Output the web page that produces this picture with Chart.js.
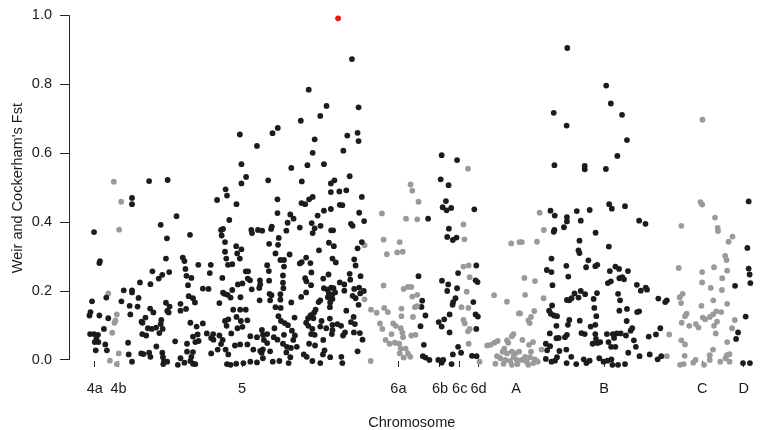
<!DOCTYPE html>
<html>
<head>
<meta charset="utf-8">
<script src="https://cdn.jsdelivr.net/npm/chart.js@4.4.1/dist/chart.umd.min.js"></script>
<style>
  html, body { margin: 0; padding: 0; background: #fff; }
  #wrap { width: 762px; height: 430px; }
</style>
</head>
<body>
<div id="wrap"><canvas id="fst" width="762" height="430"></canvas></div>
<script>
// chromosome labels and their centre on the cumulative position axis
const chromNames = ['4a', '4b', '5', '6a', '6b', '6c', '6d', 'A', 'B', 'C', 'D'];
const chromCentres = [26, 50, 175, 333, 375, 395, 414, 452, 541, 640, 682];
const yTicks = [0, 0.2, 0.4, 0.6, 0.8, 1.0];

// SNPs per chromosome: [cumulative position, Weir & Cockerham Fst]
const chr4a = [[25.3,0.371],[31.3,0.287],[30.7,0.281],[23.3,0.170],[21.7,0.139],[20.7,0.129],[30.7,0.129],[37.7,0.181],[39.7,0.121],[35.3,0.090],[21.3,0.075],[25.3,0.075],[29.3,0.073],[27.7,0.061],[26,0.052],[29.7,0.052],[36.7,0.045],[27,0.028],[38.3,0.028]];

const chr4b = [[45.3,0.517],[52.7,0.459],[50.7,0.378],[39.7,0.193],[48.3,0.132],[47,0.115],[46,0.108],[43.7,0.079],[50.3,0.019],[41.3,-0.002],[48.3,-0.012]];

const chr5 = [[81,0.519],[99.7,0.522],[63.7,0.470],[63.7,0.452],[108.7,0.417],[92.7,0.392],[99,0.353],[122.3,0.363],[98,0.294],[115,0.297],[116.7,0.287],[130.7,0.276],[143.3,0.276],[142.3,0.252],[84.3,0.257],[101.3,0.255],[94.3,0.247],[90.7,0.236],[117.7,0.264],[118.7,0.244],[123.7,0.238],[71.7,0.225],[82.3,0.220],[120.3,0.217],[55.3,0.202],[63.7,0.202],[63.7,0.196],[135.3,0.207],[141,0.206],[121,0.185],[125.3,0.179],[127.3,0.167],[53,0.170],[70.3,0.180],[61.3,0.157],[69.3,0.155],[62,0.132],[82,0.149],[85.3,0.138],[98,0.166],[101.7,0.155],[99.3,0.142],[100.7,0.138],[112.7,0.163],[112.7,0.143],[118.3,0.148],[122.7,0.108],[129,0.097],[135.3,0.106],[73.3,0.111],[77.3,0.123],[74.3,0.108],[93.3,0.116],[92.7,0.104],[94.7,0.090],[88,0.094],[91.3,0.078],[83.7,0.090],[79.7,0.092],[74,0.075],[78,0.071],[59.7,0.050],[88.3,0.039],[107.3,0.054],[119.3,0.047],[125.3,0.068],[130,0.074],[131,0.055],[127.7,0.052],[139.3,0.077],[145.7,0.075],[143.7,0.064],[73,0.019],[75.3,0.017],[81,0.021],[82.3,0.009],[60.3,0.016],[63.7,-0.005],[55.3,-0.017],[83.7,-0.019],[86,-0.017],[94.3,0.021],[95,0.008],[96,-0.005],[99.3,-0.005],[95.3,-0.012],[112.7,0.005],[108,-0.022],[110,-0.014],[119.3,0.024],[125.3,0.023],[123.7,0.009],[116.7,-0.008],[118.7,-0.017],[121,-0.025],[125.3,-0.011],[127.7,-0.012],[122.7,-0.003],[141,-0.025],[143.7,0.019],
  [286,0.873],[242.3,0.784],[260.3,0.737],[292.7,0.733],[254,0.708],[234.3,0.694],[172.7,0.654],[205.7,0.658],[211,0.673],[248.3,0.640],[281.3,0.651],[291.7,0.659],[292.7,0.635],[190,0.621],[246.3,0.601],[277.3,0.607],[174.3,0.568],[224.7,0.557],[241,0.565],[257.7,0.568],[283.7,0.533],[179,0.531],[174.3,0.512],[201.3,0.521],[235.3,0.518],[264.7,0.512],[268.3,0.521],[158.3,0.495],[159.7,0.477],[149.7,0.464],[169.3,0.452],[210.7,0.466],[235,0.455],[238.7,0.452],[242.7,0.466],[246.3,0.473],[264.7,0.487],[273.3,0.489],[280.3,0.492],[296,0.473],[273.7,0.450],[276.3,0.449],[210.7,0.426],[223.7,0.422],[227,0.410],[251.3,0.419],[257.7,0.433],[264.7,0.438],[293.3,0.427],[298.3,0.403],[162,0.406],[153.7,0.377],[155.7,0.380],[154.3,0.361],[184.3,0.377],[191,0.377],[195.3,0.375],[185,0.368],[204.3,0.380],[205,0.387],[221,0.398],[219.7,0.375],[233.3,0.384],[245.3,0.397],[248.3,0.382],[254.3,0.389],[246.3,0.368],[265,0.376],[267,0.376],[285,0.395],[286.7,0.389],
  [157.7,0.342],[157.7,0.314],[169,0.330],[174.3,0.321],[170,0.309],[172.7,0.294],[159,0.294],[202.3,0.337],[212,0.354],[211.3,0.334],[208.7,0.309],[223,0.306],[217.3,0.290],[213.7,0.290],[252.7,0.318],[262.7,0.340],[267.7,0.330],[266.3,0.294],[269.7,0.283],[291.7,0.324],[296,0.342],[288.3,0.292],[289.7,0.274],[239.7,0.297],[235.3,0.284],[233.3,0.280],[244,0.281],[160.7,0.276],[165,0.278],[155,0.238],[178.7,0.257],[181,0.257],[180.7,0.236],[183,0.231],[175.3,0.222],[165,0.203],[160.3,0.189],[157.3,0.192],[163.3,0.181],[173.3,0.182],[170.7,0.219],[200.3,0.275],[202,0.258],[193,0.231],[193.3,0.219],[192.3,0.209],[184.7,0.205],[202.3,0.230],[217.3,0.271],[216.3,0.245],[216.3,0.224],[216.7,0.208],[213.7,0.191],[213.7,0.175],[214,0.151],[208.7,0.153],[202.7,0.192],[204.7,0.188],[203.3,0.173],[192.7,0.173],[224.7,0.167],[234.7,0.183],[239.7,0.196],[240,0.228],[238.7,0.237],[245,0.254],[244.7,0.217],[257,0.236],[262.3,0.248],[257.7,0.208],[261.3,0.204],[265,0.210],[267.3,0.208],[269,0.196],[262.7,0.193],[266,0.189],[261.7,0.182],[278.3,0.219],[278.3,0.201],[273.7,0.225],[284.3,0.233],[283.7,0.250],[294.7,0.243],[288.3,0.206],[286.7,0.186],[289.7,0.179],[293.3,0.210],[294.3,0.193],[298,0.200],[292.7,0.160],[252.3,0.168],[254,0.173],[264,0.167],[266.3,0.177],[263.7,0.153],[280.3,0.143],[287.7,0.125],[289,0.104],[294,0.078],[296.7,0.059],
  [152,0.165],[155.7,0.195],[166,0.146],[173,0.146],[178.7,0.146],[161,0.118],[157.7,0.113],[159.3,0.099],[169.3,0.125],[173.7,0.113],[180.3,0.115],[175.3,0.096],[170.3,0.092],[164,0.077],[146,0.059],[155.3,0.058],[153.7,0.046],[150.3,0.030],[158.3,0.030],[161,0.016],[173,0.045],[183.3,0.069],[190,0.066],[196,0.073],[195,0.087],[200.3,0.075],[197,0.058],[200.3,0.049],[186.3,0.030],[193.3,0.026],[196,0.031],[194.7,0.021],[203.3,0.025],[207.7,0.092],[207,0.066],[210.7,0.059],[217.3,0.073],[216.3,0.047],[220.3,0.038],[224.3,0.035],[226.7,0.058],[228.3,0.071],[225.3,0.085],[221.3,0.101],[211.7,0.127],[214.3,0.113],[218,0.107],[228,0.123],[239.7,0.108],[241.7,0.121],[244.3,0.130],[247.7,0.137],[249.3,0.146],[247,0.121],[242,0.099],[246,0.090],[244.7,0.075],[248.3,0.073],[242.7,0.047],[248.7,0.042],[257,0.058],[255.3,0.113],[254,0.097],[260,0.092],[263.7,0.120],[266.3,0.102],[266.3,0.087],[265.7,0.075],[271.3,0.104],[275,0.099],[277,0.071],[279,0.080],[285,0.110],[288,0.080],[258.3,0.028],[256.7,0.016],[264,0.008],[275.3,0.009],[276.3,-0.009],[281.7,-0.024],[291.7,0.025],[250,-0.022],[246,-0.003],[254,-0.009],[260.3,-0.019],[240.3,0.009],[237.3,0.016],[230.3,0.038],[219.7,0.022],[223.7,0.008],[222,-0.009],[228.7,-0.017],[224.7,-0.019],[212.7,-0.003],[213.7,-0.016],[206,-0.005],[196,0.005],[190,-0.007],[188,-0.019],[183.3,-0.005],[176.3,-0.009],[177.3,-0.022],[173.3,-0.023],[169,-0.011],[166.7,-0.022],[163.3,-0.014],[159.7,-0.012],[161.3,-0.025],[152,0.071],[180.3,0.045],[167.7,0.042]];

const chr6a = [[298.7,0.333],[298.7,0.176],[316.3,0.425],[345.3,0.509],[347,0.491],[353.3,0.459],[340.7,0.410],[352,0.408],[318,0.349],[334.3,0.342],[321.3,0.307],[331.7,0.312],[337.3,0.314],[318,0.216],[338.3,0.206],[342.7,0.212],[346,0.212],[347,0.184],[352,0.189],[305.3,0.146],[311,0.137],[318.7,0.151],[322.3,0.139],[336,0.149],[349.7,0.153],[351.7,0.156],[336,0.127],[347.7,0.125],[314.3,0.106],[316.7,0.090],[327.7,0.106],[330.3,0.099],[335.3,0.092],[337,0.080],[326,0.075],[320,0.058],[324,0.047],[329.3,0.050],[333.7,0.047],[337.7,0.066],[346,0.071],[350.3,0.073],[335.3,0.033],[340.3,0.033],[334.3,0.019],[342.7,0.019],[338.3,0.007],[345,0.009],[305,-0.003],[316,-0.017],[322.7,-0.015],[336,-0.021],[340.7,-0.017],[345.3,-0.017]];

const chr6b = [[353.3,0.243],[357,0.172],[356.3,0.154],[360.3,0.129],[355.3,0.098],[358.7,0.044],[357.7,0.011],[360.3,0.007],[364.3,0.000],[363,0.410],[376.7,0.594],[392.3,0.580],[375.7,0.524],[383.7,0.507],[381,0.461],[377.7,0.443],[381.7,0.434],[386.3,0.441],[384,0.381],[382.3,0.357],[388,0.348],[391.7,0.355],[377,0.230],[383.3,0.219],[382.3,0.200],[392.3,0.208],[393.3,0.252],[390.7,0.179],[388.3,0.168],[387.7,0.160],[384.7,0.132],[379.3,0.118],[373.7,0.110],[376.7,0.097],[384.7,0.080],[393.3,0.038],[388,0.016],[396.3,0.021],[373.3,0.000],[378.3,0.000],[376.7,-0.008],[373.7,-0.022],[386.7,-0.012],[391.7,-0.016]];

const chr6c = [[403.3,0.555],[398.7,0.393],[399.7,0.350],[398.7,0.271],[404,0.274],[405,0.240],[402,0.198],[396.7,0.153],[403.7,0.151],[398.7,0.116],[400,0.106],[403.3,0.083],[405,0.090],[404,0.047],[400,-0.017],[404,-0.017]];

const chr6d = [[409.7,0.437],[411.7,0.274],[411,0.231],[413,0.226],[408.7,0.168],[411,0.132],[413.3,0.126],[411.7,0.090],[407.3,0.012],[412,0.011],[413.7,-0.021]];

const chrA = [[415,-0.005],[429.7,0.188],[442.7,0.169],[447,0.338],[455.3,0.342],[454.7,0.135],[449.3,0.075],[447.7,0.069],[442.7,0.057],[444,0.050],[433.3,0.055],[430,0.050],[426,0.044],[422.7,0.042],[440,0.033],[438.3,0.024],[447.7,0.024],[442.7,0.019],[451,0.019],[432.7,0.011],[436,0.005],[441,0.000],[446,-0.003],[449.3,0.009],[452.7,0.000],[431,-0.011],[439.3,-0.011],[447.7,-0.014],[453.3,-0.012],
  [475.7,0.427],[480,0.377],[457.7,0.342],[473,0.343],[460.3,0.238],[471,0.229],[461,0.189],[479.7,0.179],[456,0.135],[470.3,0.142],[467,0.125],[464.3,0.115],[465.7,0.107],[458.3,0.058],[469,0.052],[465,0.044],[477.7,0.030],[455,0.024],[467,0.024],[461,0.009],[466,0.008],[471,0.002],[457.7,0.000],[462.7,-0.005],[469.3,-0.009],[464.3,-0.014],[473.7,-0.005],[459.3,-0.019]];

const chrB = [[503.7,0.905],[543,0.796],[547.7,0.744],[490,0.717],[559,0.711],[503,0.680],[564,0.638],[554.3,0.592],[490.7,0.565],[521.3,0.563],[521.3,0.553],[542.7,0.554],[546,0.452],[548.7,0.439],[562,0.446],[486.7,0.433],[491,0.419],[503.3,0.414],[503.3,0.402],[513.3,0.432],[526.3,0.435],[517.3,0.404],[500.3,0.385],[490.7,0.377],[490,0.372],[532.3,0.369],[576.3,0.404],[582.7,0.395],[516,0.346],[515,0.318],[516,0.310],[545.7,0.329],[487.7,0.294],[525,0.289],[534,0.276],[532,0.272],[522.7,0.269],[502.7,0.273],[483,0.261],[487.7,0.255],[504.7,0.242],[552.3,0.271],[556,0.264],[546.7,0.258],[565,0.258],[559.3,0.240],[556.3,0.237],[561,0.234],[547.7,0.228],[544.7,0.223],[488.7,0.217],[574,0.218],[583,0.210],[578,0.201],[584.3,0.204],[511,0.193],[517.3,0.200],[521.7,0.191],[515,0.181],[508,0.179],[503.3,0.174],[505.7,0.173],[533.7,0.194],[530.3,0.177],[555,0.192],[557,0.173],[595.7,0.178],[602.7,0.168],[604.3,0.173],[488.3,0.158],[531,0.151],[556.3,0.143],[564,0.148],[574.3,0.139],[576.3,0.141],[485.3,0.143],[487,0.134],[490.3,0.129],[493.3,0.127],[533,0.127],[516.3,0.114],[505.7,0.116],[504.3,0.102],[492.7,0.099],[532,0.102],[527.3,0.097],[563.7,0.113],[569.3,0.092],[567.7,0.085],[563,0.071],[557.7,0.077],[553.7,0.077],[549.7,0.075],[543.7,0.075],[551,0.064],[545.3,0.052],[548,0.038],[552.3,0.038],[571,0.057],[573,0.038],[586,0.068],[593.3,0.074],[597.7,0.092],[486,0.077],[492.7,0.063],[495,0.064],[501.3,0.066],[503.3,0.073],[518,0.078],[521.3,0.075],[532,0.075],[532.7,0.061],[529.3,0.047],[534.3,0.049],[537,0.052],[482,0.047],[486.3,0.040],[483.3,0.028],[495.7,0.026],[502.7,0.030],[493.3,0.008],[491.3,-0.002],[482,0.003],[487.7,-0.005],[480.3,-0.024],[485.3,-0.019],[493,-0.017],[503,-0.009],[507.7,0.009],[512.7,-0.012],[513.3,-0.024],[520.3,0.002],[523,-0.009],[526.3,-0.002],[524,-0.024],[527.7,-0.016],[532.7,-0.019],[536,0.005],[540.3,-0.005],[544.3,-0.002],[548.3,0.002],[549.3,-0.014],[555,-0.014],[560,-0.024],[562,-0.012],[565.3,0.021],[576.7,0.011],[580,-0.019],[587,0.016],[595,0.002],[598.7,0.011]];

const chrC = [[606.7,0.074],[604.3,0.011],[640.3,0.697],[638.3,0.458],[640,0.451],[619,0.389],[653,0.413],[655.7,0.383],[656,0.374],[670.7,0.358],[666.7,0.343],[663.3,0.302],[664.7,0.290],[616.3,0.267],[640,0.255],[652,0.269],[665.3,0.259],[640,0.225],[648.7,0.209],[660.3,0.237],[660,0.203],[617.3,0.182],[620.3,0.192],[618.7,0.165],[639.3,0.157],[651.3,0.173],[665.3,0.163],[624.3,0.134],[622.7,0.127],[640.7,0.123],[643,0.118],[647.7,0.125],[651,0.132],[654.3,0.141],[659.3,0.139],[655,0.111],[652,0.099],[633.7,0.104],[636.3,0.094],[627,0.099],[619.3,0.108],[673,0.116],[670.3,0.092],[653.7,0.077],[619,0.057],[622.7,0.045],[665.3,0.052],[651,0.030],[622.3,0.012],[647.7,0.014],[667.7,0.017],[665,0.014],[633.3,0.000],[631,-0.008],[617.7,-0.014],[621.3,-0.012],[616.7,-0.024],[623.3,-0.024],[628.3,-0.025],[642,-0.014],[642.7,-0.022],[648.7,-0.019],[653,-0.019],[647.7,0.000],[658.3,-0.005],[663.7,0.005],[667.7,-0.005],[666.3,-0.019]];

const chrD = [[687,0.460],[685.7,0.325],[687,0.265],[688,0.248],[688.7,0.223],[673.3,0.215],[684,0.126],[676.3,0.080],[674.3,0.061],[681.3,-0.009],[688.3,-0.009],[677.7,-0.025]];

// the single significant outlier on chromosome 5
const outlier = [[272,0.991]];

const BLACK = '#1c1c1c';
const GREY = '#9a9a9a';
const RED = '#e8161b';
const FONT = { family: '"Liberation Sans", Arial, Helvetica, sans-serif', size: 14.5 };

const series = [
  [chr4a, BLACK], [chr4b, GREY], [chr5, BLACK], [chr6a, GREY], [chr6b, BLACK], [chr6c, GREY],
  [chr6d, BLACK], [chrA, GREY], [chrB, BLACK], [chrC, GREY], [chrD, BLACK], [outlier, RED]
];

// R style y axis: line only from first to last tick
const yAxisLine = {
  id: 'yAxisLine',
  afterDraw(chart) {
    const y = chart.scales.y;
    const x = Math.round(chart.chartArea.left) + 0.5;
    const ctx = chart.ctx;
    ctx.save();
    ctx.strokeStyle = '#222';
    ctx.lineWidth = 1;
    ctx.beginPath();
    ctx.moveTo(x, y.getPixelForValue(yTicks[0]));
    ctx.lineTo(x, y.getPixelForValue(yTicks[yTicks.length - 1]));
    ctx.stroke();
    ctx.restore();
  }
};

new Chart(document.getElementById('fst'), {
  type: 'scatter',
  data: {
    datasets: series.map(([pts, col]) => ({
      data: pts.map(p => ({ x: p[0], y: p[1] })),
      backgroundColor: col,
      borderWidth: 0,
      pointRadius: 2.9,
      clip: false
    }))
  },
  options: {
    responsive: false,
    animation: false,
    events: [],
    layout: { padding: { top: 7, right: 0, bottom: 0, left: 0 } },
    plugins: { legend: { display: false }, tooltip: { enabled: false } },
    scales: {
      x: {
        type: 'linear',
        min: 0,
        max: 693,
        afterBuildTicks: s => { s.ticks = chromCentres.map(v => ({ value: v })); },
        afterFit: s => { s.height = 69; },
        border: { display: false },
        grid: { drawOnChartArea: false, tickLength: 6, color: '#222' },
        ticks: { callback: (v, i) => chromNames[i], padding: 13, autoSkip: false, maxRotation: 0, color: '#1a1a1a', font: FONT },
        title: { display: true, text: 'Chromosome', color: '#1a1a1a', font: { ...FONT, lineHeight: 1 }, padding: { top: 0, bottom: 0 } }
      },
      y: {
        min: -0.003,
        max: 1.0,
        afterBuildTicks: s => { s.ticks = yTicks.map(v => ({ value: v })); },
        afterFit: s => { s.width = 69; },
        border: { display: false },
        grid: { drawOnChartArea: false, tickLength: 9, color: '#222' },
        ticks: { callback: v => v.toFixed(1), padding: 8, color: '#1a1a1a', font: { ...FONT, lineHeight: 1 } },
        title: { display: true, text: "Weir and Cockerham's Fst", color: '#1a1a1a', font: { ...FONT, lineHeight: 1 }, padding: { top: 11, bottom: 0 } }
      }
    }
  },
  plugins: [yAxisLine]
});
</script>
</body>
</html>
